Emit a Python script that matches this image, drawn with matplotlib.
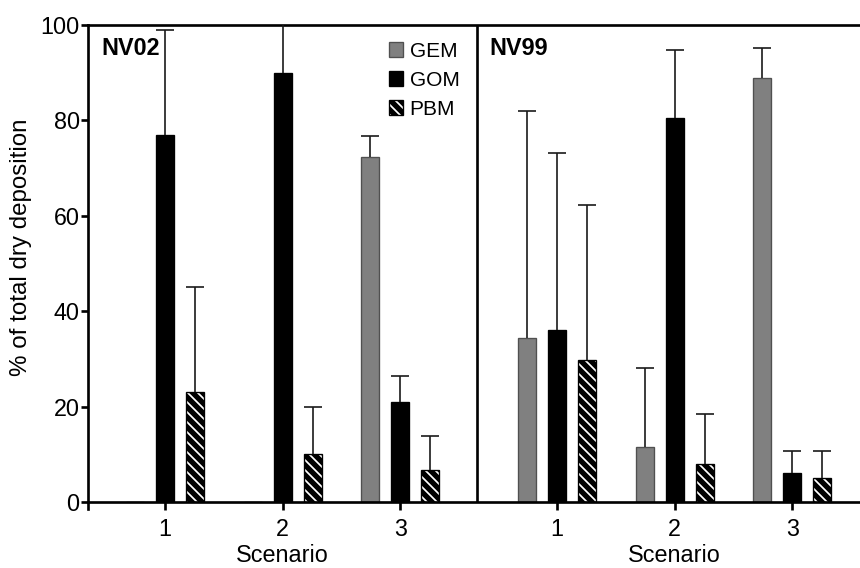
import numpy as np
import matplotlib
matplotlib.use("Agg")
import matplotlib.pyplot as plt
import matplotlib.transforms as mtransforms

# data
scenarios = ["1", "2", "3"]
species = ["GEM", "GOM", "PBM"]

nv02_gem = [0.0, 0.0, 72.4]
nv02_gom = [76.9, 89.9, 20.9]
nv02_pbm = [23.0, 10.1, 6.7]
nv02_gem_err = [0.0, 0.0, 4.2]
nv02_gom_err = [22.1, 12.0, 5.4]
nv02_pbm_err = [22.0, 9.9, 7.2]

nv99_gem = [34.3, 11.6, 88.9]
nv99_gom = [36.0, 80.4, 6.1]
nv99_pbm = [29.7, 8.0, 5.0]
nv99_gem_err = [47.6, 16.4, 6.3]
nv99_gom_err = [37.2, 14.3, 4.5]
nv99_pbm_err = [32.5, 10.4, 5.6]

plt.rcParams["font.family"] = ["Liberation Sans", "DejaVu Sans"]
plt.rcParams["hatch.linewidth"] = 3.2
plt.rcParams["hatch.color"] = "black"

fig = plt.figure(figsize=(7.17, 4.734), dpi=120)
ax = fig.add_axes([0.1023, 0.1162, 0.9116, 0.8400])

gap = 3.33  # shift of the second panel
x_left = np.arange(1, 4)
x_right = x_left + gap
off = 0.255
w = 0.153

styles = [
    dict(color="#808080", edgecolor="#505050", linewidth=0.8),
    dict(color="black", edgecolor="black", linewidth=0.8),
    dict(color="white", edgecolor="black", linewidth=0.8, hatch="\\\\\\\\"),
]

panels = [
    (x_left, [nv02_gem, nv02_gom, nv02_pbm], [nv02_gem_err, nv02_gom_err, nv02_pbm_err]),
    (x_right, [nv99_gem, nv99_gom, nv99_pbm], [nv99_gem_err, nv99_gom_err, nv99_pbm_err]),
]

handles = []
for p, (xs, vals, errs) in enumerate(panels):
    for k in range(3):
        xk = xs + (k - 1) * off
        b = ax.bar(xk, vals[k], width=w, zorder=2, **styles[k])
        if p == 0:
            handles.append(b)
        v = np.array(vals[k])
        e = np.array(errs[k])
        mask = v > 0
        _, caps, _ = ax.errorbar(xk[mask], v[mask], yerr=[np.zeros(mask.sum()), e[mask]],
                                 fmt="none", ecolor="#1a1a1a", elinewidth=1.0,
                                 capsize=5.4, capthick=1.0, zorder=3)
        caps[0].set_visible(False)

ax.set_xlim(0.346, 7.01)
ax.set_ylim(0, 100)

# divider between the two sites
ax.axvline(3.65, color="black", linewidth=1.6, zorder=4)

for s in ["left", "top", "bottom", "right"]:
    ax.spines[s].set_linewidth(1.6)
ax.spines["left"].set_bounds(-1.5, 100)

ax.set_yticks([0, 20, 40, 60, 80, 100])
ax.set_xticks(np.concatenate([x_left, x_right]))
ax.set_xticklabels(scenarios + scenarios)
ax.tick_params(axis="y", length=4, width=1.6, pad=1, labelsize=14)
ax.tick_params(axis="x", length=4.5, width=1.6, pad=5, labelsize=14)

ax.set_ylabel("% of total dry deposition", fontsize=14.5)
ax.yaxis.set_label_coords(-0.071, 0.535)

trans = mtransforms.blended_transform_factory(ax.transData, ax.transAxes)
for xc in [x_left[1], x_right[1]]:
    ax.text(xc, -0.113, "Scenario", transform=trans, ha="center", va="center", fontsize=14)

ax.text(0.017, 0.95, "NV02", transform=ax.transAxes, fontsize=14, fontweight="bold",
        ha="left", va="center")
ax.text(0.512, 0.95, "NV99", transform=ax.transAxes, fontsize=14, fontweight="bold",
        ha="left", va="center")

ax.legend(handles, species, loc="upper left", bbox_to_anchor=(0.357, 1.008), frameon=False,
          fontsize=12.5, handlelength=0.7, handleheight=0.7, handletextpad=0.3,
          labelspacing=0.48, borderpad=0.5)

fig.savefig("out.png", dpi=120)
